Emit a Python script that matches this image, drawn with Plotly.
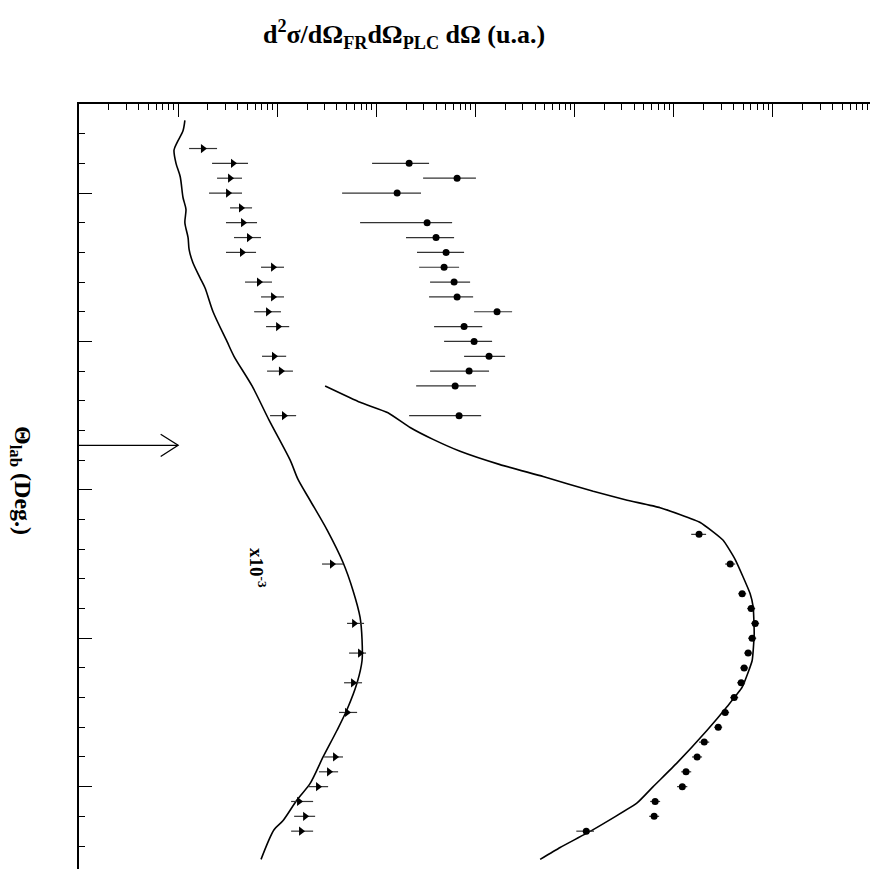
import plotly.graph_objects as go

# Theta_lab (deg) / cross sections, triangles (x10^-3 data)
theta_tri = [7, 8, 9, 10, 11, 12, 13, 14, 15, 16, 17, 18, 19, 21, 22, 25,
             35, 39, 41, 43, 45, 48, 49, 50, 51, 52, 53]
sig_tri = [1.78e-3, 3.58e-3, 3.34e-3, 3.19e-3, 4.31e-3, 4.52e-3, 5.19e-3, 4.41e-3,
           9.07e-3, 6.55e-3, 9.07e-3, 8.08e-3, 1.02e-2, 9.28e-3, 1.09e-2, 1.17e-2,
           3.57e-2, 5.96e-2, 6.85e-2, 5.82e-2, 5.06e-2, 3.83e-2, 3.33e-2, 2.58e-2,
           1.66e-2, 1.91e-2, 1.74e-2]
sig_tri_lo = [1.29e-3, 2.20e-3, 2.47e-3, 2.05e-3, 3.34e-3, 3.04e-3, 3.66e-3, 3.04e-3,
              6.86e-3, 4.73e-3, 6.86e-3, 5.83e-3, 7.71e-3, 7.02e-3, 7.89e-3, 8.46e-3,
              2.83e-2, 5.06e-2, 5.30e-2, 4.72e-2, 4.20e-2, 2.97e-2, 2.64e-2, 2.05e-2,
              1.38e-2, 1.48e-2, 1.38e-2]
sig_tri_hi = [2.47e-3, 5.07e-3, 4.41e-3, 4.41e-3, 5.57e-3, 6.25e-3, 6.86e-3, 6.11e-3,
              1.17e-2, 8.86e-3, 1.17e-2, 1.09e-2, 1.32e-2, 1.23e-2, 1.44e-2, 1.55e-2,
              4.61e-2, 7.51e-2, 7.87e-2, 7.17e-2, 6.39e-2, 4.61e-2, 4.11e-2, 3.26e-2,
              2.30e-2, 2.41e-2, 2.30e-2]

# circles
theta_circ = [8, 9, 10, 12, 13, 14, 15, 16, 17, 18, 19, 20, 21, 22, 23, 25,
              33, 35, 37, 38, 39, 40, 41, 42, 43, 44, 45, 46, 47, 48, 49, 50, 51, 52, 53]
sig_circ = [0.214, 0.652, 0.162, 0.325, 0.400, 0.505, 0.482, 0.608, 0.652, 1.65,
            0.767, 0.968, 1.37, 0.862, 0.623, 0.683,
            180, 371, 490, 604, 663, 618, 563, 513, 479, 407, 330, 281, 203, 172,
            133, 122, 64.9, 63.4, 13.1]
sig_circ_lo = [0.0905, 0.296, 0.0451, 0.0685, 0.199, 0.257, 0.270, 0.348, 0.340, 0.968,
               0.382, 0.482, 0.767, 0.348, 0.252, 0.214,
               150, 330, 447, 550, 604, 563, 513, 468, 436, 371, 301, 256, 180, 153,
               119, 108, 57.8, 56.5, 10.4]
sig_circ_hi = [0.340, 1.01, 0.282, 0.581, 0.608, 0.767, 0.683, 0.882, 0.946, 2.34,
               1.17, 1.47, 1.99, 1.37, 1.01, 1.14,
               212, 417, 538, 663, 727, 679, 618, 563, 525, 447, 362, 308, 228, 193,
               150, 137, 72.9, 71.2, 15.7]

# calculations
theta_calc_a = [5.1, 5.8, 6.6, 7.1, 8.0, 8.9, 10.3, 11.1, 12.0, 13.0, 13.8, 14.7,
                15.7, 16.4, 18.0, 20.0, 21.0, 23.0, 25.3, 28.0, 29.3, 30.7, 32.7,
                34.9, 36.8, 38.6, 40.1, 41.5, 43.0, 44.8, 46.2, 48.0, 49.8, 50.9,
                52.3, 52.9, 54.9]
calc_a = [1.17e-3, 1.12e-3, 9.75e-4, 9.09e-4, 9.52e-4, 1.05e-3, 1.12e-3, 1.20e-3,
          1.17e-3, 1.26e-3, 1.29e-3, 1.41e-3, 1.66e-3, 1.87e-3, 2.25e-3, 3.11e-3,
          3.66e-3, 5.57e-3, 8.27e-3, 1.35e-2, 1.62e-2, 2.14e-2, 3.18e-2, 4.61e-2,
          5.82e-2, 6.85e-2, 7.17e-2, 7.17e-2, 6.39e-2, 5.06e-2, 4.01e-2, 2.90e-2,
          2.14e-2, 1.58e-2, 1.14e-2, 9.28e-3, 6.86e-3]

theta_calc_b = [23.0, 24.1, 24.8, 25.8, 26.6, 27.4, 28.3, 29.1, 30.1, 30.7, 31.2,
                32.2, 33.4, 34.7, 37.0, 37.9, 39.7, 41.5, 43.3, 44.6, 46.2, 48.4,
                50.0, 51.1, 52.9, 54.1, 54.9]
calc_b = [3.04e-2, 6.85e-2, 0.131, 0.219, 0.373, 0.699, 1.77, 4.81, 15.4, 33.9, 72.9,
          185, 315, 417, 590, 633, 648, 618, 490, 346, 217, 108, 62.0, 42.7, 15.4,
          7.14, 4.49]

arrow_theta = 27.0
arrow_tip = 1.0e-3

fnt = "Liberation Serif"
W, H = 878, 869
OFF = 8  # page body margin
L, R, T, B = 79 - OFF, 878 - (872 - OFF), 104 - OFF, 0
theta_top = 4.0
theta_bot = theta_top + (H - T - B) / 14.84


def px_to_paper(px, py):
    # screen pixel -> paper coords of the plot area
    return (px - OFF - L) / (W - L - R), (H - B - (py - OFF)) / (H - T - B)


fig = go.Figure()

fig.add_trace(go.Scatter(x=calc_a, y=theta_calc_a, mode="lines",
                         line=dict(color="black", width=1.6, shape="spline", smoothing=0.8)))
fig.add_trace(go.Scatter(x=calc_b, y=theta_calc_b, mode="lines",
                         line=dict(color="black", width=1.6, shape="spline", smoothing=0.4)))

fig.add_trace(go.Scatter(
    x=sig_tri, y=theta_tri, mode="markers",
    marker=dict(symbol="triangle-right", size=8, color="black"),
    error_x=dict(type="data", symmetric=False,
                 array=[h - v for h, v in zip(sig_tri_hi, sig_tri)],
                 arrayminus=[v - l for v, l in zip(sig_tri, sig_tri_lo)],
                 color="#333", thickness=1.2, width=0)))

fig.add_trace(go.Scatter(
    x=sig_circ, y=theta_circ, mode="markers",
    marker=dict(symbol="circle", size=7, color="black"),
    error_x=dict(type="data", symmetric=False,
                 array=[h - v for h, v in zip(sig_circ_hi, sig_circ)],
                 arrayminus=[v - l for v, l in zip(sig_circ, sig_circ_lo)],
                 color="#333", thickness=1.2, width=0)))

# arrow
fig.add_trace(go.Scatter(x=[1e-4, arrow_tip], y=[arrow_theta, arrow_theta], mode="lines",
                         line=dict(color="black", width=1.3)))
fig.add_trace(go.Scatter(x=[arrow_tip / 1.5, arrow_tip, arrow_tip / 1.5],
                         y=[arrow_theta - 0.75, arrow_theta, arrow_theta + 0.75],
                         mode="lines", line=dict(color="black", width=1.3)))

fig.add_annotation(x=-2.2, y=35.3, xref="x", yref="y", text="<b>x10<sup>-3</sup></b>",
                   textangle=90, showarrow=False, font=dict(family=fnt, size=19, color="black"))

lx, ly = px_to_paper(21, 480)
fig.add_annotation(x=lx, y=ly, xref="paper", yref="paper",
                   xanchor="center", yanchor="middle", showarrow=False, textangle=90,
                   text="<b>Θ<sub>lab</sub> (Deg.)</b>",
                   font=dict(family=fnt, size=24, color="black"))

fig.update_layout(
    width=W, height=H,
    margin=dict(l=L, r=R, t=T, b=B, autoexpand=False),
    plot_bgcolor="white", paper_bgcolor="white",
    showlegend=False,
    title=dict(text="<b>d<sup>2</sup>σ/dΩ<sub>FR</sub>dΩ<sub>PLC</sub> dΩ (u.a.)</b>",
               x=(404 - OFF) / W, y=1 - (34 - OFF) / H, xref="container", yref="container",
               xanchor="center", yanchor="middle",
               font=dict(family=fnt, size=26, color="black")),
)

fig.update_xaxes(type="log", side="top", range=[-4, 4], dtick=1, automargin=False,
                 showline=True, linecolor="black", linewidth=1.5, mirror=False,
                 ticks="inside", ticklen=13, tickcolor="black", tickwidth=1,
                 showticklabels=False, showgrid=False, zeroline=False,
                 minor=dict(ticks="inside", ticklen=6, dtick="D1", tickcolor="black",
                            showgrid=False))
fig.update_yaxes(range=[theta_bot, theta_top], tick0=0, dtick=10, automargin=False,
                 showline=True, linecolor="black", linewidth=1.5, mirror=True,
                 ticks="inside", ticklen=13, tickcolor="black", tickwidth=1,
                 showticklabels=False, showgrid=False, zeroline=False,
                 minor=dict(ticks="inside", ticklen=6, dtick=2, tickcolor="black",
                            showgrid=False))

fig.write_html("out.html")
